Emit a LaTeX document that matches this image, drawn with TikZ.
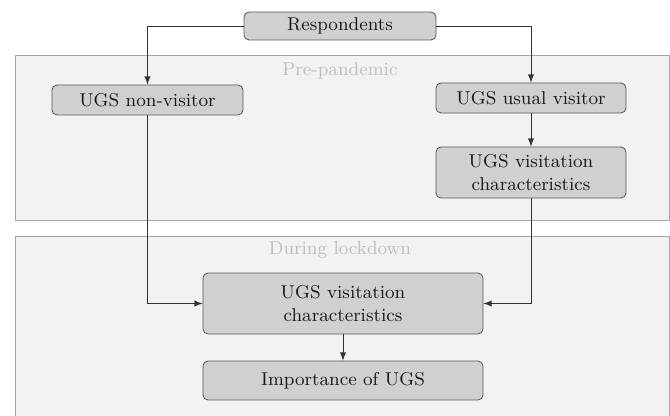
\documentclass[tikz,border=0pt]{standalone}
\usepackage{tikz}
\usetikzlibrary{arrows}
\definecolor{box_fill}{RGB}{208,208,208}
\definecolor{box_edge}{RGB}{85,85,85}
\definecolor{link_col}{RGB}{50,50,50}
\definecolor{panel_fill}{RGB}{242,242,242}
\definecolor{panel_edge}{RGB}{165,165,165}
\definecolor{panel_text}{RGB}{190,190,190}
\begin{document}
\begin{tikzpicture}[->,>=latex,x=0.5pt,y=-0.5pt,font=\fontsize{9.3}{11.1}\selectfont]
    \tikzstyle{panel}=[draw=panel_edge,fill=panel_fill,rectangle,inner sep=0pt]
    \tikzstyle{title}=[text=panel_text,inner sep=0pt]
    \tikzstyle{step_box}=[draw=box_edge,fill=box_fill,rounded corners=2.5pt,align=center,inner sep=0pt,text=black!90]
    \tikzstyle{link}=[draw=link_col,line width=0.45pt]

    \useasboundingbox (0,0) rectangle (670,416);

    % background panels
    \node[panel,minimum width=327pt,minimum height=82.5pt] (pre)  at (342,137.5) {};
    \node[panel,minimum width=327pt,minimum height=92pt]   (lock) at (342,328) {};
    \node[title] (pretitle)  at (340,71)  {Pre-pandemic};
    \node[title] (locktitle) at (340,250) {During lockdown};

    % boxes
    \node[step_box,minimum width=96pt,minimum height=14pt]   (resp)  at (340,26)  {Respondents};
    \node[step_box,minimum width=95.5pt,minimum height=15pt] (non)   at (147.5,100) {UGS non-visitor};
    \node[step_box,minimum width=95pt,minimum height=15pt]   (usual) at (531,98)  {UGS usual visitor};
    \node[step_box,minimum width=95pt,minimum height=25.5pt] (chara) at (531,172.5) {UGS visitation\\characteristics};
    \node[step_box,minimum width=140pt,minimum height=30.5pt] (charb) at (343,303.5) {UGS visitation\\characteristics};
    \node[step_box,minimum width=140pt,minimum height=19.5pt] (imp)   at (343,380.5) {Importance of UGS};

    \draw[link] (resp.west) -| (non.north);
    \draw[link] (resp.east) -| (usual.north);
    \draw[link] (usual) -- (chara);
    \draw[link] (non.south) |- (charb.west);
    \draw[link] (chara.south) |- (charb.east);
    \draw[link] (charb) -- (imp);
\end{tikzpicture}
\end{document}
